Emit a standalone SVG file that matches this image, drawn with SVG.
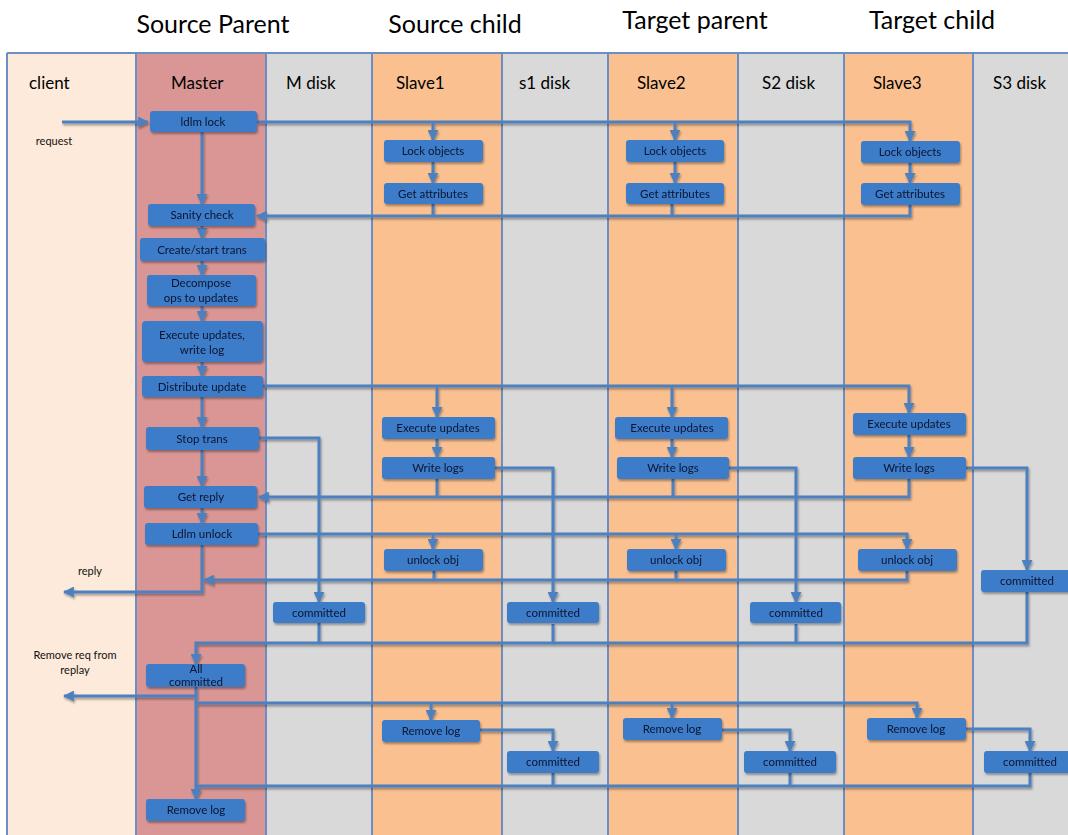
<svg xmlns="http://www.w3.org/2000/svg" width="1068" height="835" viewBox="0 0 1068 835">
<defs>
<marker id="ah" markerUnits="userSpaceOnUse" markerWidth="11" markerHeight="11" viewBox="0 0 10 10" refX="9" refY="5" orient="auto">
<path d="M0,0 L10,5 L0,10 z" fill="#4E80BE"/>
</marker>
<filter id="sh" x="-10%" y="-10%" width="130%" height="150%">
<feDropShadow dx="1" dy="2" stdDeviation="1" flood-color="#000" flood-opacity="0.35"/>
</filter>
</defs>
<style>
.title{font-family:Lato,"Open Sans",sans-serif;font-size:25px;fill:#000;text-anchor:middle}
.lane{font-family:Lato,"Open Sans",sans-serif;font-size:17px;fill:#000}
.lbl{font-family:Lato,"Open Sans",sans-serif;font-size:11px;fill:#111;text-anchor:middle}
.box rect{fill:#3D7CC9;stroke:none}
.box text{font-family:Lato,"Open Sans",sans-serif;font-size:11.5px;fill:#0b1530;text-anchor:middle}
.sep{stroke:#6B8FC4;stroke-width:2;fill:none}
#connectors path{fill:none;stroke:#4E80BE;stroke-width:3}
</style>
<rect width="1068" height="835" fill="#fff"/>
<text class="title" x="213" y="33">Source Parent</text>
<text class="title" x="455" y="33">Source child</text>
<text class="title" x="695" y="29">Target parent</text>
<text class="title" x="932" y="29">Target child</text>
<g id="lanes">
<rect x="7" y="53" width="129" height="790" fill="#FDEADA"/>
<rect x="136" y="53" width="130" height="790" fill="#D99694"/>
<rect x="266" y="53" width="106" height="790" fill="#D9D9D9"/>
<rect x="372" y="53" width="130" height="790" fill="#FAC090"/>
<rect x="502" y="53" width="106" height="790" fill="#D9D9D9"/>
<rect x="608" y="53" width="130" height="790" fill="#FAC090"/>
<rect x="738" y="53" width="106" height="790" fill="#D9D9D9"/>
<rect x="844" y="53" width="129" height="790" fill="#FAC090"/>
<rect x="973" y="53" width="100" height="790" fill="#D9D9D9"/>
<path class="sep" d="M7,53 H1068 M7,53 V835 M136,53 V835 M266,53 V835 M372,53 V835 M502,53 V835 M608,53 V835 M738,53 V835 M844,53 V835 M973,53 V835"/>
<text class="lane" x="29" y="89">client</text>
<text class="lane" x="171" y="89">Master</text>
<text class="lane" x="286" y="89">M disk</text>
<text class="lane" x="396" y="89">Slave1</text>
<text class="lane" x="519" y="89">s1 disk</text>
<text class="lane" x="637" y="89">Slave2</text>
<text class="lane" x="762" y="89">S2 disk</text>
<text class="lane" x="873" y="89">Slave3</text>
<text class="lane" x="993" y="89">S3 disk</text>
<text class="lbl" x="54" y="145">request</text>
<text class="lbl" x="90" y="575">reply</text>
<text class="lbl" x="75" y="659">Remove req from</text>
<text class="lbl" x="75" y="674">replay</text>
</g>
<g id="connectors" filter="url(#sh)">
<path d="M62,122 H148" marker-end="url(#ah)"/>
<path d="M257,122 H910 V141" marker-end="url(#ah)"/>
<path d="M433,122 V140" marker-end="url(#ah)"/>
<path d="M675,122 V140" marker-end="url(#ah)"/>
<path d="M433,162 V183" marker-end="url(#ah)"/>
<path d="M675,162 V183" marker-end="url(#ah)"/>
<path d="M910,163 V183" marker-end="url(#ah)"/>
<path d="M910,205 V216 H257" marker-end="url(#ah)"/>
<path d="M433,204 V216"/>
<path d="M672,204 V216"/>
<path d="M202,132 V204" marker-end="url(#ah)"/>
<path d="M202,226 V238" marker-end="url(#ah)"/>
<path d="M202,261 V275" marker-end="url(#ah)"/>
<path d="M202,306 V321" marker-end="url(#ah)"/>
<path d="M202,362 V376" marker-end="url(#ah)"/>
<path d="M202,397 V427" marker-end="url(#ah)"/>
<path d="M202,450 V486" marker-end="url(#ah)"/>
<path d="M202,508 V523" marker-end="url(#ah)"/>
<path d="M263,386 H909 V413" marker-end="url(#ah)"/>
<path d="M437,386 V417" marker-end="url(#ah)"/>
<path d="M672,386 V417" marker-end="url(#ah)"/>
<path d="M437,439 V457" marker-end="url(#ah)"/>
<path d="M672,439 V457" marker-end="url(#ah)"/>
<path d="M909,435 V457" marker-end="url(#ah)"/>
<path d="M909,479 V497 H259" marker-end="url(#ah)"/>
<path d="M437,479 V497"/>
<path d="M673,479 V497"/>
<path d="M495,468 H553 V602" marker-end="url(#ah)"/>
<path d="M729,468 H796 V602" marker-end="url(#ah)"/>
<path d="M966,468 H1027 V570" marker-end="url(#ah)"/>
<path d="M259,438 H319 V602" marker-end="url(#ah)"/>
<path d="M258,534 H907 V549" marker-end="url(#ah)"/>
<path d="M433,534 V549" marker-end="url(#ah)"/>
<path d="M676,534 V549" marker-end="url(#ah)"/>
<path d="M907,571 V580 H204" marker-end="url(#ah)"/>
<path d="M434,571 V580"/>
<path d="M676,571 V580"/>
<path d="M202,545 V592 H64" marker-end="url(#ah)"/>
<path d="M1027,592 V643 H196 V664" marker-end="url(#ah)"/>
<path d="M319,623 V643"/>
<path d="M553,624 V643"/>
<path d="M796,624 V643"/>
<path d="M196,687 V799" marker-end="url(#ah)"/>
<path d="M196,696 H64" marker-end="url(#ah)"/>
<path d="M196,703 H917 V718" marker-end="url(#ah)"/>
<path d="M431,703 V720" marker-end="url(#ah)"/>
<path d="M672,703 V718" marker-end="url(#ah)"/>
<path d="M480,730 H553 V751" marker-end="url(#ah)"/>
<path d="M722,730 H790 V751" marker-end="url(#ah)"/>
<path d="M966,729 H1030 V751" marker-end="url(#ah)"/>
<path d="M1030,773 V786 H196"/>
<path d="M553,773 V786"/>
<path d="M790,773 V786"/>
</g>
<g id="n-ldlm-lock" class="box" filter="url(#sh)"><rect x="150" y="111" width="107" height="21" rx="3"/><text x="203" y="126">ldlm lock</text></g>
<g id="n-sanity" class="box" filter="url(#sh)"><rect x="148" y="204" width="107" height="22" rx="3"/><text x="202" y="219">Sanity check</text></g>
<g id="n-create" class="box" filter="url(#sh)"><rect x="140" y="238" width="125" height="23" rx="3"/><text x="202" y="254">Create/start trans</text></g>
<g id="n-decompose" class="box" filter="url(#sh)"><rect x="147" y="275" width="109" height="31" rx="3"/><text x="201" y="287">Decompose</text><text x="201" y="302">ops to updates</text></g>
<g id="n-exec-master" class="box" filter="url(#sh)"><rect x="142" y="321" width="121" height="41" rx="4"/><text x="202" y="339">Execute updates,</text><text x="202" y="354">write log</text></g>
<g id="n-distribute" class="box" filter="url(#sh)"><rect x="142" y="376" width="121" height="21" rx="3"/><text x="202" y="391">Distribute update</text></g>
<g id="n-stop" class="box" filter="url(#sh)"><rect x="146" y="427" width="113" height="23" rx="3"/><text x="202" y="443">Stop trans</text></g>
<g id="n-getreply" class="box" filter="url(#sh)"><rect x="144" y="486" width="113" height="22" rx="3"/><text x="201" y="501">Get reply</text></g>
<g id="n-unlock" class="box" filter="url(#sh)"><rect x="145" y="523" width="113" height="22" rx="3"/><text x="202" y="538">Ldlm unlock</text></g>
<g id="n-allcommitted" class="box" filter="url(#sh)"><rect x="146" y="664" width="99" height="23" rx="3"/><text x="196" y="673">All</text><text x="196" y="686">committed</text></g>
<g id="n-removelog-m" class="box" filter="url(#sh)"><rect x="146" y="799" width="99" height="22" rx="3"/><text x="196" y="814">Remove log</text></g>
<g id="n-committed-m" class="box" filter="url(#sh)"><rect x="273" y="602" width="92" height="21" rx="3"/><text x="319" y="617">committed</text></g>
<g id="n-lock1" class="box" filter="url(#sh)"><rect x="384" y="140" width="99" height="22" rx="3"/><text x="433" y="155">Lock objects</text></g>
<g id="n-attr1" class="box" filter="url(#sh)"><rect x="384" y="183" width="99" height="21" rx="3"/><text x="433" y="198">Get attributes</text></g>
<g id="n-exec1" class="box" filter="url(#sh)"><rect x="382" y="417" width="113" height="22" rx="3"/><text x="438" y="432">Execute updates</text></g>
<g id="n-write1" class="box" filter="url(#sh)"><rect x="382" y="457" width="113" height="22" rx="3"/><text x="438" y="472">Write logs</text></g>
<g id="n-unlock1" class="box" filter="url(#sh)"><rect x="384" y="549" width="99" height="22" rx="3"/><text x="433" y="564">unlock obj</text></g>
<g id="n-remove1" class="box" filter="url(#sh)"><rect x="382" y="720" width="98" height="22" rx="3"/><text x="431" y="735">Remove log</text></g>
<g id="n-committed-s1a" class="box" filter="url(#sh)"><rect x="507" y="602" width="92" height="21" rx="3"/><text x="553" y="617">committed</text></g>
<g id="n-committed-s1b" class="box" filter="url(#sh)"><rect x="507" y="751" width="92" height="22" rx="3"/><text x="553" y="766">committed</text></g>
<g id="n-lock2" class="box" filter="url(#sh)"><rect x="626" y="140" width="98" height="22" rx="3"/><text x="675" y="155">Lock objects</text></g>
<g id="n-attr2" class="box" filter="url(#sh)"><rect x="626" y="183" width="98" height="21" rx="3"/><text x="675" y="198">Get attributes</text></g>
<g id="n-exec2" class="box" filter="url(#sh)"><rect x="615" y="417" width="113" height="22" rx="3"/><text x="672" y="432">Execute updates</text></g>
<g id="n-write2" class="box" filter="url(#sh)"><rect x="617" y="457" width="112" height="22" rx="3"/><text x="673" y="472">Write logs</text></g>
<g id="n-unlock2" class="box" filter="url(#sh)"><rect x="627" y="549" width="99" height="22" rx="3"/><text x="676" y="564">unlock obj</text></g>
<g id="n-remove2" class="box" filter="url(#sh)"><rect x="623" y="718" width="99" height="22" rx="3"/><text x="672" y="733">Remove log</text></g>
<g id="n-committed-s2a" class="box" filter="url(#sh)"><rect x="750" y="602" width="91" height="21" rx="3"/><text x="796" y="617">committed</text></g>
<g id="n-committed-s2b" class="box" filter="url(#sh)"><rect x="744" y="751" width="92" height="22" rx="3"/><text x="790" y="766">committed</text></g>
<g id="n-lock3" class="box" filter="url(#sh)"><rect x="861" y="141" width="99" height="22" rx="3"/><text x="910" y="156">Lock objects</text></g>
<g id="n-attr3" class="box" filter="url(#sh)"><rect x="861" y="183" width="99" height="22" rx="3"/><text x="910" y="198">Get attributes</text></g>
<g id="n-exec3" class="box" filter="url(#sh)"><rect x="853" y="413" width="113" height="22" rx="3"/><text x="909" y="428">Execute updates</text></g>
<g id="n-write3" class="box" filter="url(#sh)"><rect x="853" y="457" width="113" height="22" rx="3"/><text x="909" y="472">Write logs</text></g>
<g id="n-unlock3" class="box" filter="url(#sh)"><rect x="858" y="549" width="99" height="22" rx="3"/><text x="907" y="564">unlock obj</text></g>
<g id="n-remove3" class="box" filter="url(#sh)"><rect x="867" y="718" width="99" height="22" rx="3"/><text x="916" y="733">Remove log</text></g>
<g id="n-committed-s3a" class="box" filter="url(#sh)"><rect x="981" y="570" width="92" height="22" rx="3"/><text x="1027" y="585">committed</text></g>
<g id="n-committed-s3b" class="box" filter="url(#sh)"><rect x="984" y="751" width="92" height="22" rx="3"/><text x="1030" y="766">committed</text></g>
</svg>
